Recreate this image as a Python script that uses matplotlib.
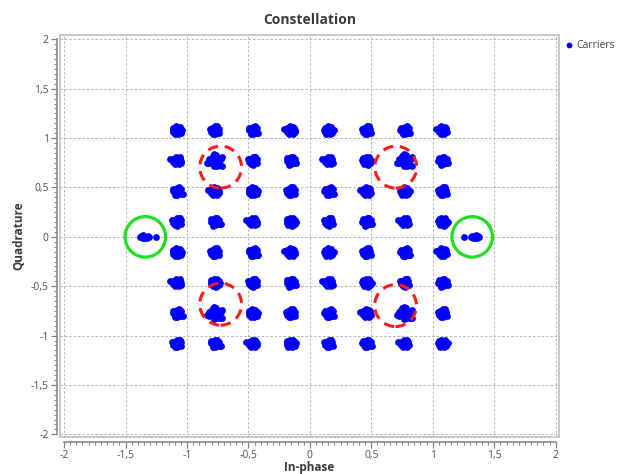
import matplotlib
matplotlib.use("Agg")
import matplotlib.pyplot as plt
from matplotlib.patches import Ellipse, Rectangle
from matplotlib.ticker import MultipleLocator, FuncFormatter

plt.rcParams['font.family'] = ['Open Sans', 'DejaVu Sans']

# ---- data -------------------------------------------------------------
i_levels = [-1.08, -0.772, -0.463, -0.154, 0.154, 0.463, 0.772, 1.08]
q_levels = [1.08, 0.772, 0.463, 0.154, -0.154, -0.463, -0.772, -1.08]

# hand-read scatter shapes of the clusters (offsets, data units)
blob_a_i = [0, -.02, .02, -.03, .03, -.01, .01, 0, 0, -.03, .03, .02, -.02, .04, -.01, .01, -.035, .025]
blob_a_q = [0, .015, -.015, .025, -.025, .04, -.04, .025, -.025, -.015, .015, .035, -.035, 0, 0, .015, .005, -.02]
blob_b_i = [0, -.025, .025, -.015, .015, .03, -.03, 0, 0, .01, -.01, .035, -.04, .02, -.02, .005]
blob_b_q = [0, .02, -.02, -.035, .035, .015, -.015, .04, -.04, .025, -.025, -.025, .015, .04, .005, -.015]
blob_c_i = [0, -.02, .02, 0, 0, -.03, .03, .035, -.015, .015, -.035, .025, .01, -.01, .045]
blob_c_q = [0, -.015, .015, .035, -.035, .025, -.025, .02, -.04, .04, 0, -.015, -.02, .02, -.025]
blob_d_i = [0, -.03, .03, -.015, .015, .01, -.01, .035, -.03, .02, -.02, .005, -.055, 0, .025]
blob_d_q = [0, .02, 0, -.035, -.035, .025, .04, -.02, -.015, .035, 0, -.015, .015, .02, .02]
blob_e_i = [0, -.035, .035, -.02, .02, .045, -.045, .01, -.01, .03, -.03, 0, 0, .055, -.065, .02, -.02, .05, -.05, .04, -.01, .06]
blob_e_q = [0, .02, -.02, .05, -.05, .025, -.025, .055, -.055, 0, 0, .035, -.035, -.05, -.02, .025, -.025, .015, .015, -.045, .065, .035]

pilot_i = [-1.34, 1.34]
pilot_q = [0.0, 0.0]
pilot_blob_i = [0, -.02, .02, .015, -.015, .03, -.03, .01, .04, -.09]
pilot_blob_q = [0, .01, -.01, .015, -.015, .005, -.005, -.015, 0, 0]

# highlighted regions
red_i = [-0.726, 0.699, -0.726, 0.697]
red_q = [0.706, 0.706, -0.682, -0.696]
green_i = [-1.339, 1.321]
green_q = [0.0, 0.0]

x_ticks = [-2, -1.5, -1, -0.5, 0, 0.5, 1, 1.5, 2]
y_ticks = [-2, -1.5, -1, -0.5, 0, 0.5, 1, 1.5, 2]

# ---- figure -----------------------------------------------------------
W, H = 617, 474
fig = plt.figure(figsize=(W / 100, H / 100), dpi=100)
L, R, T, B = 60, 559, 35, 437
ax = fig.add_axes([L / W, (H - B) / H, (R - L) / W, (B - T) / H])
ax.set_xlim(-2.033, 2.027)
ax.set_ylim(-2.027, 2.044)

blobs = [(blob_a_i, blob_a_q), (blob_b_i, blob_b_q),
         (blob_c_i, blob_c_q), (blob_d_i, blob_d_q)]
xs, ys = [], []
for r, q in enumerate(q_levels):
    for c, i in enumerate(i_levels):
        if abs(abs(i) - 0.772) < 1e-6 and abs(abs(q) - 0.772) < 1e-6:
            bi, bq = blob_e_i, blob_e_q
        else:
            bi, bq = blobs[(r * 3 + c) % 4]
        xs.extend(i + d for d in bi)
        ys.extend(q + d for d in bq)
for pi, pq in zip(pilot_i, pilot_q):
    sgn = 1 if pi > 0 else -1
    xs.extend(pi + sgn * d for d in pilot_blob_i)
    ys.extend(pq + d for d in pilot_blob_q)

ax.plot(xs, ys, 'o', color='#0000ff', markersize=4.9, markeredgewidth=0,
        zorder=3)

for ci, cq in zip(red_i, red_q):
    ax.add_patch(Ellipse((ci, cq), 0.34, 0.425, fill=False, edgecolor='#ff1a1a',
                         linewidth=2.2, linestyle=(0, (3.4, 2.2)), zorder=4))
for ci, cq in zip(green_i, green_q):
    ax.add_patch(Ellipse((ci, cq), 0.33, 0.41, fill=False, edgecolor='#1ee01e',
                         linewidth=2.3, zorder=4))

# grid
ax.set_xticks(x_ticks)
ax.set_yticks(y_ticks)
ax.grid(True, color='#b4b4b4', linestyle=(0, (2.5, 2)), linewidth=0.7)
ax.set_axisbelow(True)
ax.xaxis.set_minor_locator(MultipleLocator(0.05))
ax.yaxis.set_minor_locator(MultipleLocator(0.05))

fmt = FuncFormatter(lambda v, p: ('%g' % v).replace('.', ','))
ax.xaxis.set_major_formatter(fmt)
ax.yaxis.set_major_formatter(fmt)

for s in ['top', 'right']:
    ax.spines[s].set_visible(False)
ax.spines['left'].set_position(('outward', 2.2))
ax.spines['bottom'].set_position(('outward', 3.6))
ax.spines['left'].set_bounds(-2, 2)
ax.spines['bottom'].set_bounds(-2, 2)
for s in ['left', 'bottom']:
    ax.spines[s].set_color('#8a8a8a')
    ax.spines[s].set_linewidth(1.2)

ax.tick_params(which='major', length=4.5, width=0.9, color='#808080',
               labelsize=7.5, labelcolor='#505050', pad=1.5)
ax.tick_params(which='minor', length=2.5, width=0.7, color='#808080')

# canvas frame
ax.add_patch(Rectangle((0, 0), 1, 1, transform=ax.transAxes, fill=False,
                       edgecolor='#c8c8c8', linewidth=1.4, clip_on=False,
                       zorder=5))

fig.text((L + R) / 2 / W, 1 - 20 / H, 'Constellation', ha='center',
         va='center', fontsize=10, fontweight='bold', color='#3a3a3a')
fig.text((L + R) / 2 / W, 1 - 467 / H, 'In-phase', ha='center',
         va='center', fontsize=8.5, fontweight='bold', color='#3a3a3a')
ax.set_ylabel('Quadrature', fontsize=8.5, fontweight='bold', color='#3a3a3a',
              labelpad=4)

# legend
fig.lines.append(plt.Line2D([569 / W], [1 - 45 / H], marker='o',
                            color='#0000ff', markersize=4.2,
                            markeredgewidth=0, transform=fig.transFigure))
fig.text(576 / W, 1 - 45 / H, 'Carriers', ha='left', va='center',
         fontsize=7.5, color='#404040')

fig.savefig('out.png', dpi=100)
